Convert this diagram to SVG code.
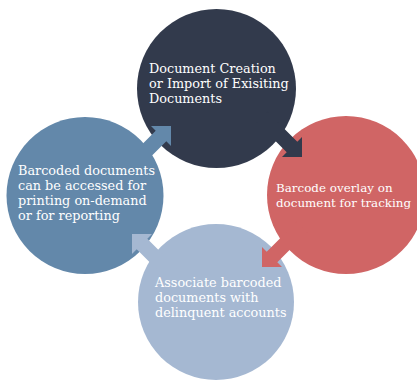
<svg xmlns="http://www.w3.org/2000/svg" xmlns:xlink="http://www.w3.org/1999/xlink" width="417" height="381" viewBox="0 0 417 381">
  <style>
    .lbl { font-family: "DejaVu Serif", "Liberation Serif", serif; font-size: 12.8px; fill: #ffffff; }
    .sm { font-size: 11.9px; }
    .c1 { fill: #323a4c; }
    .c2 { fill: #d06565; }
    .c3 { fill: #a5b8d2; }
    .c4 { fill: #6388aa; }
  </style>
  <defs>
    <polygon id="arrow" points="0,0 -20,0 -15.3,-4.7 -45.3,-34.7 -34.7,-45.3 -4.7,-15.3 0,-20"/>
  </defs>
  <rect width="417" height="381" fill="#ffffff"/>
  <g id="node-create"><circle class="c1" cx="216.5" cy="88.5" r="79.5"/></g>
  <g id="node-overlay"><circle class="c2" cx="346" cy="195" r="79"/></g>
  <g id="node-associate"><circle class="c3" cx="216" cy="302" r="78"/></g>
  <g id="node-access"><circle class="c4" cx="85" cy="195.5" r="78.5"/></g>
  <g id="connectors">
    <use xlink:href="#arrow" class="c1" transform="translate(302,157)"/>
    <use xlink:href="#arrow" class="c2" transform="translate(262,267) rotate(90)"/>
    <use xlink:href="#arrow" class="c3" transform="translate(132,234) rotate(180)"/>
    <use xlink:href="#arrow" class="c4" transform="translate(171,126) rotate(270)"/>
  </g>
  <g id="labels">
    <text class="lbl" x="149" y="73">Document Creation</text>
    <text class="lbl" x="149" y="88">or Import of Exisiting</text>
    <text class="lbl" x="149" y="103">Documents</text>
    <text class="lbl sm" x="276" y="192">Barcode overlay on</text>
    <text class="lbl sm" x="276" y="207">document for tracking</text>
    <text class="lbl" x="155" y="287">Associate barcoded</text>
    <text class="lbl" x="155" y="302">documents with</text>
    <text class="lbl" x="155" y="317">delinquent accounts</text>
    <text class="lbl" x="18" y="175">Barcoded documents</text>
    <text class="lbl" x="18" y="190">can be accessed for</text>
    <text class="lbl" x="18" y="205">printing on-demand</text>
    <text class="lbl" x="18" y="220">or for reporting</text>
  </g>
</svg>
